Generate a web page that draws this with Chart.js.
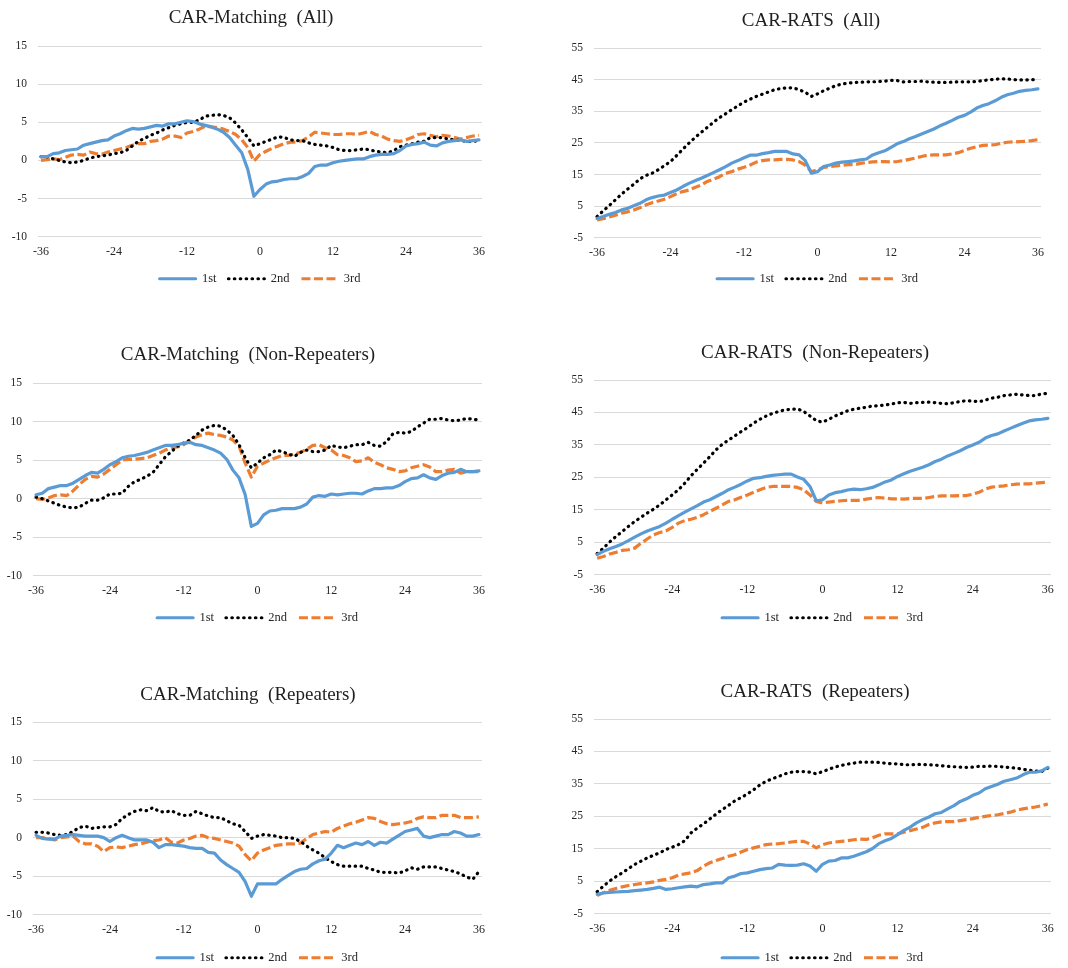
<!DOCTYPE html>
<html>
<head>
<meta charset="utf-8">
<script src="https://cdn.jsdelivr.net/npm/chart.js@4.4.1/dist/chart.umd.min.js"></script>
<style>
html,body{margin:0;padding:0;background:#ffffff;overflow:hidden;}
#wrap{position:relative;width:1068px;height:968px;overflow:hidden;background:#ffffff;}
#wrap canvas{position:absolute;}
</style>
</head>
<body>
<div id="wrap"></div>
<script>
// ---------- categories & tick labels ----------
const months = [-36,-35,-34,-33,-32,-31,-30,-29,-28,-27,-26,-25,-24,-23,-22,-21,-20,-19,-18,-17,-16,-15,-14,-13,-12,-11,-10,-9,-8,-7,-6,-5,-4,-3,-2,-1,0,1,2,3,4,5,6,7,8,9,10,11,12,13,14,15,16,17,18,19,20,21,22,23,24,25,26,27,28,29,30,31,32,33,34,35,36];
const xTickLabels = [-36,-24,-12,0,12,24,36];
const seriesNames = ['1st','2nd','3rd'];
const matchingTicks = [-10,-5,0,5,10,15];
const ratsTicks = [-5,5,15,25,35,45,55];

// ---------- CAR-Matching (All) ----------
const matchAll1st = [0.5,0.5,0.9,1.0,1.3,1.4,1.5,2.0,2.2,2.4, 2.6,2.7,3.2,3.5,3.9,4.2,4.1,4.2,4.4,4.6, 4.5,4.8,4.8,5.0,5.2,5.1,4.8,4.6,4.4,4.1, 3.7,3.0,2.0,1.0,-1.2,-4.7,-3.8,-3.1,-2.8,-2.7, -2.5,-2.4,-2.4,-2.1,-1.7,-0.8,-0.6,-0.6,-0.3,-0.1, 0.0,0.1,0.2,0.2,0.5,0.7,0.8,0.8,0.9,1.3, 1.9,2.1,2.2,2.4,2.0,1.9,2.3,2.5,2.6,2.7, 2.5,2.6,2.7];
const matchAll2nd = [0.5,0.5,0.2,0.0,-0.2,-0.3,-0.2,0.0,0.3,0.5, 0.6,0.7,0.9,1.0,1.3,1.9,2.5,2.9,3.3,3.6, 4.0,4.3,4.6,4.8,5.0,5.0,5.3,5.8,5.9,6.0, 5.9,5.6,4.9,4.0,3.0,1.9,2.2,2.5,2.8,3.1, 3.0,2.7,2.6,2.6,2.3,2.1,2.0,1.9,1.7,1.4, 1.3,1.3,1.4,1.5,1.4,1.2,1.1,1.0,1.3,1.8, 2.0,2.2,2.4,2.5,3.0,3.0,3.0,2.8,2.7,2.6, 2.5,2.5,2.6];
const matchAll3rd = [0.0,0.1,0.2,0.1,0.4,0.7,0.8,0.7,1.1,0.9, 0.8,1.1,1.3,1.5,1.7,2.0,2.2,2.2,2.5,2.6, 2.8,3.2,3.2,3.0,3.6,3.8,4.1,4.5,4.4,4.3, 4.1,3.8,3.4,2.7,1.7,-0.1,0.8,1.2,1.6,1.9, 2.2,2.4,2.4,2.6,3.1,3.7,3.6,3.5,3.4,3.4, 3.5,3.5,3.4,3.6,3.8,3.4,3.2,2.8,2.6,2.5, 2.7,3.0,3.4,3.5,3.3,3.1,3.3,3.2,3.0,2.8, 3.0,3.2,3.3];

// ---------- CAR-RATS (All) ----------
const ratsAll1st = [1.1,1.7,2.4,3.0,3.8,4.3,5.1,5.9,7.0,7.7, 8.2,8.5,9.3,10.1,11.2,12.2,13.0,13.8,14.7,15.6, 16.5,17.5,18.6,19.4,20.3,21.1,21.1,21.6,21.9,22.3, 22.3,22.3,21.5,21.2,19.4,15.4,15.9,17.5,18.0,18.6, 18.9,19.1,19.3,19.6,19.9,21.2,21.9,22.5,23.6,24.7, 25.4,26.3,27.0,27.8,28.6,29.4,30.4,31.2,32.1,33.1, 33.7,34.7,36.0,36.8,37.4,38.3,39.4,40.2,40.7,41.3, 41.6,41.8,42.1];
const ratsAll2nd = [1.7,3.5,5.2,7.0,8.8,10.4,11.9,13.6,14.7,15.4, 16.5,17.8,19.1,21.0,23.0,24.9,26.7,28.3,29.9,31.5, 33.0,34.2,35.5,36.7,37.9,38.8,39.7,40.4,41.1,41.8, 42.2,42.4,42.4,41.8,41.0,39.7,40.5,41.5,42.3,43.1, 43.6,43.9,44.1,44.2,44.3,44.3,44.4,44.5,44.8,44.7, 44.3,44.4,44.4,44.5,44.3,44.2,44.1,44.1,44.2,44.3, 44.3,44.3,44.4,44.7,44.9,45.1,45.3,45.2,45.0,44.9, 44.9,45.0,45.0];
const ratsAll3rd = [0.6,1.0,1.6,2.1,2.8,3.2,3.8,4.5,5.4,6.1, 6.6,7.2,8.0,8.9,9.6,10.1,10.9,11.7,12.8,13.5, 14.3,15.4,15.9,16.7,17.3,18.0,18.9,19.4,19.6,19.6, 19.8,19.8,19.6,19.1,18.0,15.9,16.5,17.2,17.5,17.7, 17.9,18.1,18.1,18.5,18.8,19.0,19.1,19.1,19.0,19.1, 19.4,19.8,20.2,20.7,21.1,21.2,21.2,21.2,21.5,21.9, 22.6,23.3,23.8,24.2,24.3,24.4,24.9,25.2,25.3,25.4, 25.5,25.7,26.0];

// ---------- CAR-Matching (Non-Repeaters) ----------
const matchNon1st = [0.5,0.7,1.3,1.5,1.7,1.7,2.0,2.5,3.0,3.4, 3.3,3.8,4.4,4.8,5.3,5.5,5.6,5.8,6.0,6.3, 6.6,6.9,6.9,7.0,7.2,7.3,7.0,6.9,6.6,6.3, 5.9,5.1,3.7,2.7,0.5,-3.6,-3.2,-2.1,-1.6,-1.5, -1.3,-1.3,-1.3,-1.1,-0.7,0.2,0.4,0.3,0.6,0.5, 0.6,0.7,0.7,0.6,1.0,1.3,1.3,1.4,1.4,1.7, 2.2,2.6,2.7,3.1,2.7,2.5,3.0,3.3,3.4,3.8, 3.5,3.5,3.6];
const matchNon2nd = [0.2,0.0,-0.3,-0.6,-0.9,-1.1,-1.2,-1.1,-0.6,-0.2, -0.2,0.1,0.6,0.6,0.7,1.6,2.2,2.5,2.9,3.4, 4.4,5.4,6.1,6.8,7.2,7.6,8.2,8.9,9.3,9.5, 9.4,8.9,8.2,7.0,5.3,4.0,4.6,5.3,5.7,6.3, 6.1,5.8,5.5,6.0,6.3,6.1,6.1,6.3,6.9,6.7, 6.6,6.8,7.0,7.0,7.3,6.9,6.8,7.4,8.4,8.6, 8.5,8.7,9.3,9.8,10.3,10.3,10.4,10.2,10.1,10.2, 10.4,10.3,10.2];
const matchNon3rd = [0.0,-0.1,0.1,0.4,0.5,0.4,1.0,1.8,2.5,2.9, 2.8,3.2,3.8,4.4,5.0,5.1,5.1,5.2,5.3,5.6, 5.9,6.3,6.6,6.7,7.0,7.5,8.0,8.3,8.5,8.3, 8.2,8.0,7.6,6.8,4.6,2.8,4.2,4.6,5.0,5.3, 5.6,5.6,5.8,6.0,6.4,6.9,7.0,6.6,6.3,5.7, 5.6,5.3,4.8,4.9,5.3,4.7,4.4,4.0,3.8,3.5, 3.6,4.0,4.2,4.4,4.1,3.5,3.5,3.7,3.8,3.3, 3.5,3.5,3.5];

// ---------- CAR-RATS (Non-Repeaters) ----------
const ratsNon1st = [1.2,2.2,3.0,3.7,4.5,5.5,6.6,7.6,8.5,9.2, 9.9,10.9,12.1,13.2,14.3,15.3,16.3,17.4,18.1,19.1, 20.1,21.2,22.0,22.9,23.9,24.7,24.9,25.3,25.6,25.8, 26.0,26.0,25.1,24.4,22.2,17.8,18.1,19.6,20.3,20.6, 21.1,21.4,21.2,21.5,21.9,22.7,23.6,24.2,25.3,26.1, 26.9,27.5,28.1,28.9,29.9,30.6,31.6,32.4,33.2,34.2, 35.0,35.8,37.1,37.9,38.4,39.3,40.1,40.9,41.7,42.4, 42.7,42.9,43.2];
const ratsNon2nd = [1.5,3.2,5.1,6.8,8.3,9.9,11.4,12.7,14.0,15.2, 16.5,18.1,19.6,21.2,23.2,25.5,27.5,29.4,31.4,33.5, 35.2,36.5,37.8,39.1,40.3,41.7,42.9,43.9,44.7,45.3, 45.8,46.0,46.1,45.3,43.9,42.5,42.0,42.9,43.9,44.7, 45.5,46.0,46.3,46.6,47.0,47.1,47.3,47.6,48.0,48.1, 47.8,48.0,48.1,48.2,48.0,47.8,47.7,48.0,48.4,48.6, 48.5,48.3,48.8,49.4,49.7,50.2,50.4,50.6,50.4,50.2, 50.2,50.7,50.9];
const ratsNon3rd = [0.1,0.6,1.4,1.9,2.5,2.7,3.2,4.7,6.0,7.3, 8.0,8.5,9.6,10.9,11.7,12.1,12.7,13.5,14.5,15.5, 16.5,17.6,18.1,18.9,19.6,20.4,21.2,21.9,22.2,22.2, 22.2,22.2,21.9,21.2,19.6,17.6,17.1,17.4,17.6,17.8, 17.9,17.9,17.9,18.3,18.6,18.8,18.6,18.4,18.4,18.3, 18.5,18.5,18.5,18.8,19.1,19.3,19.3,19.3,19.4,19.4, 19.8,20.4,21.4,22.0,22.2,22.4,22.7,22.9,23.0,23.0, 23.2,23.4,23.5];

// ---------- CAR-Matching (Repeaters) ----------
const matchRep1st = [0.3,-0.1,-0.2,-0.2,0.2,0.3,0.4,0.3,0.2,0.2, 0.2,0.0,-0.5,0.0,0.3,0.0,-0.3,-0.3,-0.3,-0.6, -1.3,-0.9,-0.9,-1.0,-1.1,-1.3,-1.4,-1.4,-1.9,-2.0, -2.9,-3.5,-4.0,-4.5,-5.7,-7.6,-6.0,-6.0,-6.0,-6.0, -5.4,-4.9,-4.4,-4.1,-4.0,-3.4,-3.0,-2.8,-2.0,-1.0, -1.3,-1.0,-0.7,-0.9,-0.5,-1.0,-0.6,-0.7,-0.2,0.3, 0.8,1.0,1.2,0.2,0.0,0.2,0.4,0.4,0.8,0.6, 0.2,0.2,0.4];
const matchRep2nd = [0.7,0.7,0.6,0.4,0.3,0.4,0.8,1.3,1.5,1.2, 1.3,1.4,1.4,1.7,2.5,3.0,3.4,3.6,3.5,3.9, 3.4,3.3,3.5,3.1,2.9,2.9,3.4,3.1,2.8,2.6, 2.6,2.2,1.8,1.6,0.8,-0.1,0.2,0.4,0.3,0.2, 0.0,0.0,-0.1,-0.5,-1.1,-1.6,-2.0,-2.6,-3.1,-3.5, -3.7,-3.7,-3.7,-3.7,-4.0,-4.2,-4.5,-4.5,-4.5,-4.6, -4.3,-3.9,-4.1,-3.8,-3.8,-3.8,-4.0,-4.2,-4.4,-4.7, -5.1,-5.4,-4.4];
const matchRep3rd = [0.0,0.0,-0.1,-0.3,0.0,0.1,0.2,-0.5,-0.8,-0.8, -1.1,-1.8,-1.3,-1.2,-1.3,-1.1,-0.9,-0.8,-0.6,-0.4, -0.3,0.0,-0.6,-0.7,-0.3,-0.1,0.2,0.3,0.0,-0.1, -0.3,-0.5,-0.7,-1.1,-2.2,-3.0,-2.0,-1.6,-1.3,-1.0, -0.9,-0.8,-0.8,-0.7,-0.1,0.4,0.6,0.8,0.7,1.2, 1.5,1.8,2.0,2.3,2.6,2.5,2.1,1.8,1.7,1.8, 1.9,2.1,2.5,2.7,2.6,2.6,2.9,2.9,2.9,2.6, 2.6,2.6,2.7];

// ---------- CAR-RATS (Repeaters) ----------
const ratsRep1st = [1.0,1.4,1.6,1.7,1.8,1.9,2.1,2.3,2.5,2.8, 3.2,2.5,2.7,3.0,3.3,3.5,3.3,4.0,4.2,4.5, 4.5,6.1,6.6,7.4,7.6,8.1,8.6,8.9,9.1,10.2, 10.0,9.9,10.0,10.4,9.7,8.1,10.2,11.2,11.4,12.2, 12.2,12.7,13.4,14.1,15.1,16.6,17.5,18.2,19.4,20.7, 21.7,23.0,24.0,24.8,25.8,26.2,27.3,28.3,29.6,30.4, 31.5,32.2,33.5,34.2,34.9,35.8,36.3,36.8,37.8,38.6, 38.6,39.0,40.1];
const ratsRep2nd = [1.8,3.5,5.1,6.4,7.6,8.9,10.2,11.2,12.2,13.0, 13.8,14.8,15.5,16.3,17.5,19.9,21.4,22.7,24.2,25.7, 27.1,28.4,29.8,30.8,31.9,33.2,34.7,35.8,36.6,37.3, 38.1,38.6,38.8,38.8,38.6,38.1,38.8,39.5,40.2,40.7, 41.1,41.4,41.7,41.7,41.7,41.6,41.4,41.2,41.2,40.9, 40.9,41.0,41.0,40.9,40.8,40.6,40.4,40.3,40.2,40.1, 40.2,40.4,40.4,40.5,40.4,40.2,40.0,39.9,39.5,39.2, 39.0,38.8,39.9];
const ratsRep3rd = [0.6,1.5,2.2,2.8,3.3,3.7,4.0,4.3,4.5,4.8, 5.3,5.6,6.1,6.9,7.3,7.6,8.3,9.7,10.7,11.4, 12.0,12.7,13.2,14.0,14.8,15.3,15.8,16.3,16.5,16.6, 16.8,17.1,17.3,17.3,16.5,15.3,16.3,16.8,17.1,17.3, 17.5,17.8,18.0,17.9,18.4,19.2,19.6,19.6,19.6,20.1, 20.6,21.1,21.6,22.5,23.0,23.3,23.4,23.4,23.7,24.0, 24.3,24.7,25.0,25.3,25.5,25.9,26.3,26.9,27.3,27.6, 27.9,28.3,28.8];

// ---------- styles ----------
const seriesStyles = [
  {borderColor:'#5B9BD5', borderWidth:3.2, borderDash:[], borderCapStyle:'round'},
  {borderColor:'#000000', borderWidth:3.2, borderDash:[0.5,5.4], borderCapStyle:'round'},
  {borderColor:'#ED7D31', borderWidth:3.2, borderDash:[9,3.5], borderCapStyle:'butt'}
];
const FONT = "'Liberation Serif', 'Times New Roman', serif";
const TITLE_SIZE = 19, TICK_SIZE = 12, YTICK_SIZE = 11.5, LEG_SIZE = 12.5, LEG_PAD = 12;

// page-level layout of the six panels (pixel positions; area = gridline extent)
const panels = [
  {title:'CAR-Matching  (All)',           series:[matchAll1st,matchAll2nd,matchAll3rd], ticks:matchingTicks, left:0,   width:502, top:0,   titleY:18.3,  areaLeft:38,  areaRight:482,  areaTop:46,  areaBottom:237, legendY:279},
  {title:'CAR-RATS  (All)',               series:[ratsAll1st,ratsAll2nd,ratsAll3rd],    ticks:ratsTicks,     left:560, width:502, top:0,   titleY:20.7,  areaLeft:594, areaRight:1041, areaTop:48,  areaBottom:238, legendY:279},
  {title:'CAR-Matching  (Non-Repeaters)', series:[matchNon1st,matchNon2nd,matchNon3rd], ticks:matchingTicks, left:0,   width:496, top:320, titleY:355,   areaLeft:33,  areaRight:482,  areaTop:383, areaBottom:576, legendY:618},
  {title:'CAR-RATS  (Non-Repeaters)',     series:[ratsNon1st,ratsNon2nd,ratsNon3rd],    ticks:ratsTicks,     left:568, width:494, top:320, titleY:352.7, areaLeft:594, areaRight:1051, areaTop:380, areaBottom:575, legendY:618},
  {title:'CAR-Matching  (Repeaters)',     series:[matchRep1st,matchRep2nd,matchRep3rd], ticks:matchingTicks, left:0,   width:496, top:655, titleY:695,   areaLeft:33,  areaRight:482,  areaTop:722, areaBottom:915, legendY:958},
  {title:'CAR-RATS  (Repeaters)',         series:[ratsRep1st,ratsRep2nd,ratsRep3rd],    ticks:ratsTicks,     left:568, width:494, top:655, titleY:691.7, areaLeft:594, areaRight:1051, areaTop:719, areaBottom:914, legendY:958}
];

Chart.defaults.font.family = FONT;

const wrap = document.getElementById('wrap');
panels.forEach(p => {
  const titleLH = TITLE_SIZE * 1.2;
  const tPadTop = p.titleY - p.top - titleLH / 2;
  const tPadBottom = p.areaTop - p.top - tPadTop - titleLH;
  const legendH = LEG_SIZE + LEG_PAD + 10;
  const legendTop = p.legendY - LEG_PAD - LEG_SIZE / 2;
  const xAxisH = legendTop - p.areaBottom;
  const canvasH = Math.round(legendTop - p.top + legendH);
  const yAxisW = p.areaLeft - p.left;
  const spacerW = p.left + p.width - p.areaRight;
  const xPad = 15 - TICK_SIZE * 1.2 / 2;

  const cv = document.createElement('canvas');
  cv.width = p.width; cv.height = canvasH;
  cv.style.left = p.left + 'px'; cv.style.top = p.top + 'px';
  cv.style.width = p.width + 'px'; cv.style.height = canvasH + 'px';
  wrap.appendChild(cv);

  const t = p.ticks;
  new Chart(cv.getContext('2d'), {
    type: 'line',
    data: {
      labels: months,
      datasets: p.series.map((vals, i) => Object.assign({
        label: seriesNames[i],
        data: vals,
        yAxisID: 'y',
        fill: false,
        tension: 0,
        pointRadius: 0,
        pointHoverRadius: 0,
        borderJoinStyle: 'round'
      }, seriesStyles[i]))
    },
    options: {
      responsive: false,
      animation: false,
      devicePixelRatio: 1,
      events: [],
      layout: {padding: 0},
      plugins: {
        title: {
          display: true, text: p.title, color: '#1f1f1f',
          font: {family: FONT, size: TITLE_SIZE, weight: 'normal'},
          padding: {top: tPadTop, bottom: tPadBottom}
        },
        legend: {
          display: true, position: 'bottom', fullSize: false,
          labels: {
            usePointStyle: true, pointStyle: 'line', pointStyleWidth: 36,
            padding: LEG_PAD, color: '#262626',
            font: {family: FONT, size: LEG_SIZE},
            generateLabels: chart => Chart.defaults.plugins.legend.labels.generateLabels(chart).map((item, i) =>
              Object.assign(item, {
                lineDash: seriesStyles[i].borderDash,
                lineCap: seriesStyles[i].borderCapStyle,
                lineWidth: seriesStyles[i].borderWidth,
                strokeStyle: seriesStyles[i].borderColor,
                pointStyle: 'line'
              }))
          }
        },
        tooltip: {enabled: false}
      },
      scales: {
        x: {
          type: 'category',
          offset: true,
          grid: {display: false, drawTicks: false},
          border: {display: false},
          ticks: {
            autoSkip: false, maxRotation: 0, minRotation: 0, padding: xPad,
            color: '#262626', font: {family: FONT, size: TICK_SIZE},
            callback: (v, i) => xTickLabels.includes(months[i]) ? String(months[i]) : null
          },
          afterFit: s => { s.height = xAxisH; }
        },
        y: {
          position: 'left',
          min: t[0], max: t[t.length - 1],
          grid: {color: '#D9D9D9', lineWidth: 1, drawTicks: false},
          border: {display: false},
          ticks: {
            stepSize: t[1] - t[0], padding: 11,
            color: '#262626', font: {family: FONT, size: YTICK_SIZE}
          },
          afterFit: s => { s.width = yAxisW; }
        },
        spacer: {
          type: 'linear', position: 'right', display: true,
          grid: {display: false, drawTicks: false},
          border: {display: false},
          ticks: {display: false},
          afterFit: s => { s.width = spacerW; }
        }
      }
    }
  });
});
</script>
</body>
</html>
